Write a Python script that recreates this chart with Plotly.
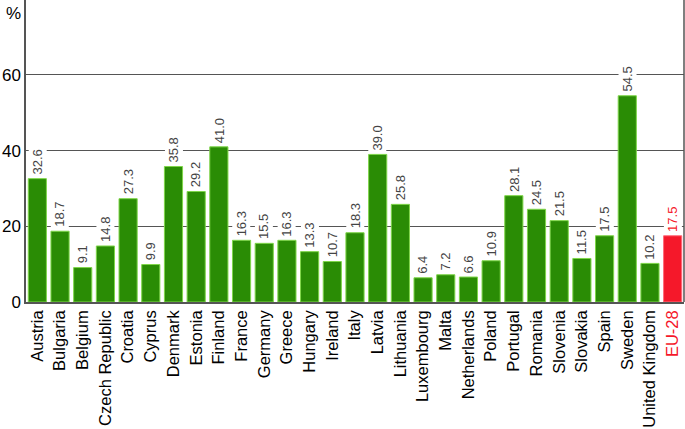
import plotly.graph_objects as go

countries = ["Austria", "Bulgaria", "Belgium", "Czech Republic", "Croatia", "Cyprus",
             "Denmark", "Estonia", "Finland", "France", "Germany", "Greece", "Hungary",
             "Ireland", "Italy", "Latvia", "Lithuania", "Luxembourg", "Malta",
             "Netherlands", "Poland", "Portugal", "Romania", "Slovenia", "Slovakia",
             "Spain", "Sweden", "United Kingdom", "EU-28"]
values = [32.6, 18.7, 9.1, 14.8, 27.3, 9.9, 35.8, 29.2, 41.0, 16.3, 15.5, 16.3, 13.3,
          10.7, 18.3, 39.0, 25.8, 6.4, 7.2, 6.6, 10.9, 28.1, 24.5, 21.5, 11.5,
          17.5, 54.5, 10.2, 17.5]
y_ticks = [0, 20, 40, 60]

GREEN = "#2a8c05"
RED = "#f5182a"

colors = [RED if c == "EU-28" else GREEN for c in countries]
edges = ["#ff6a78" if c == "EU-28" else "#7fd64a" for c in countries]
tick_text = [f'<span style="color:{RED}">{c}</span>' if c == "EU-28" else c
             for c in countries]

fig = go.Figure(go.Bar(
    x=countries, y=values,
    marker=dict(color=colors, line=dict(color=edges, width=1)),
    width=0.8,
))

# value labels, rotated, white background so they cut the gridlines
for c, v in zip(countries, values):
    fig.add_annotation(
        x=c, y=v, text=f"{v:.1f}", textangle=-90,
        showarrow=False, yanchor="bottom", yshift=2,
        bgcolor="white", borderpad=1,
        font=dict(size=13, color=RED if c == "EU-28" else "#444444"),
    )

fig.add_annotation(xref="paper", yref="paper", x=0, y=1.0, xshift=-3, yshift=-2,
                   text="%", showarrow=False, xanchor="right", yanchor="top",
                   font=dict(size=17, color="black"))
fig.add_shape(type="line", xref="paper", yref="paper", x0=1, x1=1, y0=0, y1=1,
              line=dict(color="#555555", width=1.5))

fig.update_layout(
    width=685, height=429,
    margin=dict(l=26, r=1, t=0, b=127),
    paper_bgcolor="white", plot_bgcolor="white",
    font=dict(family="Liberation Sans, Arial, sans-serif", color="black"),
    showlegend=False, bargap=0.2,
)
fig.update_xaxes(tickmode="array", tickvals=countries, ticktext=tick_text,
                 tickangle=-90, tickfont=dict(size=16.5), ticks="",
                 automargin=False,
                 showline=True, linecolor="#555555", linewidth=1.5)
fig.update_yaxes(range=[0, 79.8], tickvals=y_ticks, tickfont=dict(size=17),
                 automargin=False,
                 showgrid=True, gridcolor="#555555", gridwidth=1,
                 showline=True, linecolor="#555555", linewidth=1.5,
                 zeroline=False, ticks="")

# drop the default page margin so the chart sits at the window corner
fig.write_html("out.html", config={"displayModeBar": False},
               post_script="document.body.style.margin='0';")
